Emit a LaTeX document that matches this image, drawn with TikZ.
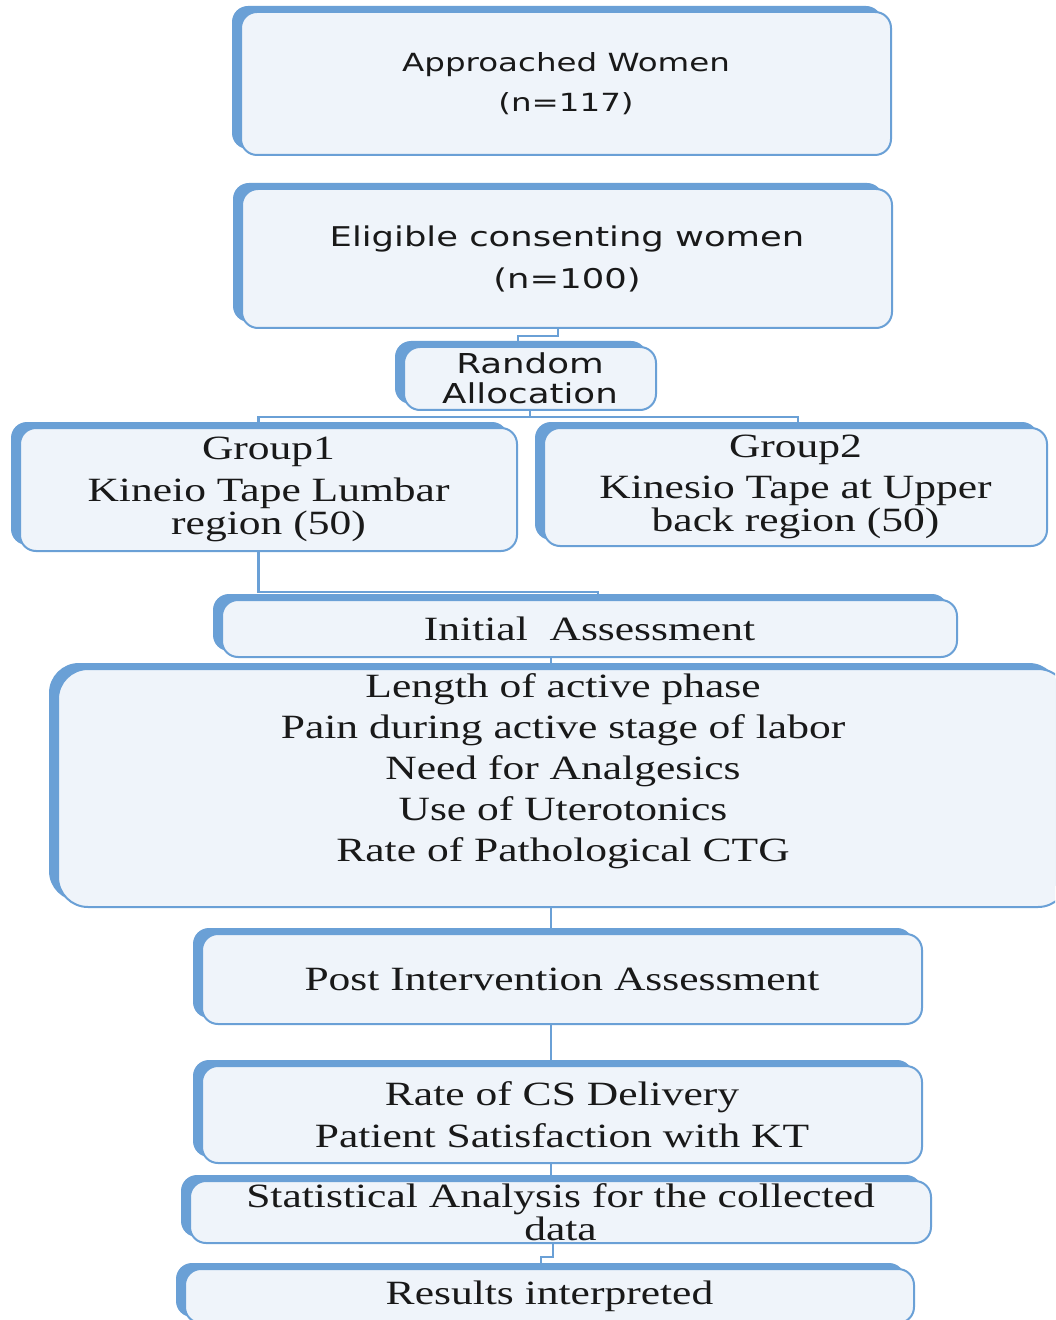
\documentclass[tikz,border=0pt]{standalone}
\usepackage{fontspec}
\setmainfont{Liberation Serif}[FakeStretch=1.28]
\newfontfamily\verdfont{DejaVu Sans}[FakeStretch=1.3]
\usetikzlibrary{positioning,calc,shadows,backgrounds}
\definecolor{StepBlue}{RGB}{106,160,214}
\definecolor{StepFill}{RGB}{239,244,250}

\tikzset{
  stepbox/.style={draw=StepBlue, line width=1pt, fill=StepFill, rounded corners=8pt,
    align=center, inner sep=0pt, text=black!90,
    general shadow={shadow xshift=-4.5pt, shadow yshift=3pt, fill=StepBlue}},
  link/.style={draw=StepBlue, line width=1.2pt},
  serif/.style={font=\fontsize{17}{14.75}\selectfont},
}

\begin{document}
\begin{tikzpicture}[x=0.5pt, y=-0.5pt]
  \useasboundingbox (0,0) rectangle (1055,1320);
  \begin{scope}[on background layer]
    \fill[white] (0,0) rectangle (1055,1320);
  \end{scope}
  \clip (0,0) rectangle (1055,1320);

  % top part, sans text
  \node[stepbox, font=\verdfont\fontsize{12.5}{20}\selectfont, minimum width=325pt,
        minimum height=71.5pt] (appr) at (566,83.5) {Approached Women\\(n=117)};
  \node[stepbox, font=\verdfont\fontsize{13.6}{21}\selectfont, minimum width=325pt,
        minimum height=69.5pt] (elig) at (567,258.5) {Eligible consenting women\\(n=100)};
  \node[stepbox, font=\verdfont\fontsize{13.7}{15}\selectfont, minimum width=126pt,
        minimum height=31.5pt] (rand) at (530,378.5) {Random\\Allocation};

  % groups
  \node[stepbox, serif, minimum width=248.5pt, minimum height=61.5pt] (g1) at (268.5,489.5)
        {Group1\\[4.5pt]Kineio Tape Lumbar\\region (50)};
  \node[stepbox, serif, minimum width=251.5pt, minimum height=59pt] (g2) at (795.5,487)
        {Group2\\[4.5pt]Kinesio Tape at Upper\\back region (50)};

  \node[stepbox, serif, minimum width=367.5pt, minimum height=28.5pt] (init) at (589.5,628.5)
        {Initial\ \ Assessment};
  \node[stepbox, font=\fontsize{17}{20.5}\selectfont, rounded corners=15pt,
        minimum width=505pt, minimum height=119pt] (outc) at (563,788)
        {Length of active phase\\Pain during active stage of labor\\Need for Analgesics\\
         Use of Uterotonics\\Rate of Pathological CTG\\\mbox{}};
  \node[stepbox, serif, minimum width=360pt, minimum height=45pt] (post) at (562,979)
        {Post Intervention Assessment};
  \node[stepbox, serif, minimum width=360pt, minimum height=48.5pt] (rate) at (562,1114.5)
        {Rate of CS Delivery\\[4.5pt]Patient Satisfaction with KT};
  \node[stepbox, serif, minimum width=370.5pt, minimum height=31pt] (stat) at (560.5,1212)
        {Statistical Analysis for the collected\\data};
  \node[stepbox, serif, anchor=north, minimum width=364.5pt, minimum height=27pt] (res)
        at (549.5,1268) {Results interpreted};

  % connectors
  \coordinate (spine) at (551,0);
  \begin{scope}[on background layer]
    \draw[link] ($(elig.south)+(-9,0)$) -- ++(0,7) -| ($(rand.north)+(-12,0)$);
    \draw[link] (rand.south) -- ++(0,6) -| ($(g1.north)+(-10,0)$);
    \draw[link] (rand.south) -- ++(0,6) -| ($(g2.north)+(2.5,0)$);
    \draw[link] ($(g1.south)+(-10,0)$) -- ++(0,40) -| ($(init.north)+(8.5,0)$);
    \draw[link] (init.south -| spine) -- (outc.north -| spine);
    \draw[link] (outc.south -| spine) -- (post.north -| spine);
    \draw[link] (post.south -| spine) -- (rate.north -| spine);
    \draw[link] (rate.south -| spine) -- (stat.north -| spine);
    \draw[link] ($(stat.south)+(-7.5,0)$) -- ++(0,13) -| ($(res.north)+(-8.5,0)$);
  \end{scope}
\end{tikzpicture}
\end{document}
